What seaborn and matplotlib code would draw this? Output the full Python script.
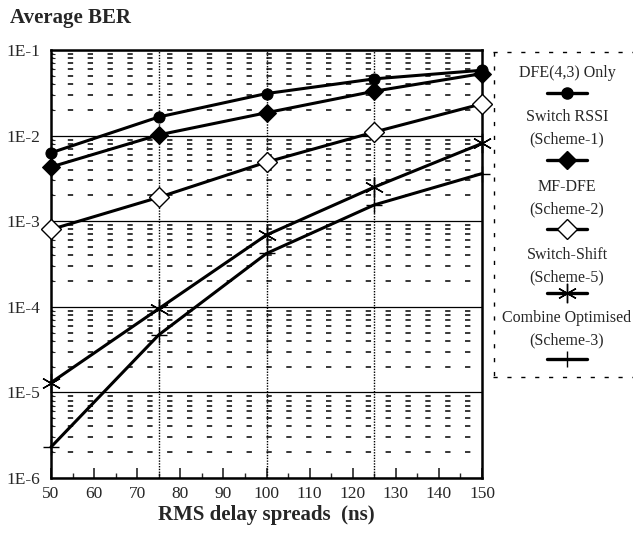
import numpy as np
import pandas as pd
import matplotlib
matplotlib.use("Agg")
import matplotlib.pyplot as plt
import seaborn as sns
from matplotlib.ticker import LogLocator, FixedLocator, NullFormatter, MultipleLocator

# ---- data ----
delay_ns = [50, 75, 100, 125, 150]
ber_dfe = [6.3e-3, 1.65e-2, 3.1e-2, 4.6e-2, 5.8e-2]
ber_rssi = [4.3e-3, 1.02e-2, 1.85e-2, 3.3e-2, 5.3e-2]
ber_mfdfe = [8.0e-4, 1.9e-3, 4.9e-3, 1.1e-2, 2.35e-2]
ber_shift = [1.3e-5, 9.5e-5, 6.9e-4, 2.5e-3, 8.1e-3]
ber_combine = [2.3e-6, 4.7e-5, 4.2e-4, 1.55e-3, 3.6e-3]

series_names = ["DFE(4,3) Only", "Switch RSSI\n(Scheme-1)", "MF-DFE\n(Scheme-2)",
                "Switch-Shift\n(Scheme-5)", "Combine Optimised\n(Scheme-3)"]
series_values = [ber_dfe, ber_rssi, ber_mfdfe, ber_shift, ber_combine]
ytick_vals = [1e-6, 1e-5, 1e-4, 1e-3, 1e-2, 1e-1]
ytick_labels = ["1E-6", "1E-5", "1E-4", "1E-3", "1E-2", "1E-1"]
xtick_vals = [50, 60, 70, 80, 90, 100, 110, 120, 130, 140, 150]
vgrid_x = [75, 100, 125]

# ---- styles ----
marker_styles = [
    dict(marker="o", markersize=8, markerfacecolor="black", markeredgecolor="black"),
    dict(marker="D", markersize=9, markerfacecolor="black", markeredgecolor="black"),
    dict(marker="D", markersize=10, markerfacecolor="white", markeredgecolor="black", markeredgewidth=1.0),
    dict(marker=(6, 2, 0), markersize=14, markeredgecolor="black", markeredgewidth=1.0),
    dict(marker="+", markersize=12, markeredgecolor="black", markeredgewidth=1.0),
]

sns.set_style("white")
plt.rcParams["font.family"] = ["Liberation Serif", "DejaVu Serif"]

fig = plt.figure(figsize=(6.33, 5.36), dpi=100)
ax = fig.add_axes([51 / 633, (536 - 478) / 536, (482 - 51) / 633, (478 - 50) / 536])

rows = []
for name, vals in zip(series_names, series_values):
    for x, v in zip(delay_ns, vals):
        rows.append(dict(series=name, delay=x, ber=v))
df = pd.DataFrame(rows)

for name, st in zip(series_names, marker_styles):
    sub = df[df["series"] == name]
    sns.lineplot(data=sub, x="delay", y="ber", ax=ax, color="black", linewidth=2.2,
                 legend=False, zorder=5, clip_on=False, **st)

ax.set_yscale("log")
ax.set_ylim(1e-6, 1e-1)
ax.set_xlim(50, 150)

# grids
ax.yaxis.set_major_locator(FixedLocator(ytick_vals))
ax.set_yticklabels(ytick_labels)
ax.yaxis.set_minor_locator(LogLocator(base=10, subs=np.arange(2, 10)))
ax.yaxis.set_minor_formatter(NullFormatter())
ax.grid(True, which="major", axis="y", color="black", linewidth=0.9, linestyle="-")
ax.grid(True, which="minor", axis="y", color="black", linewidth=1.1, linestyle=(2, (3.5, 9.5)))
for xv in vgrid_x:
    ax.axvline(xv, color="black", linewidth=1.0, linestyle=(0, (1, 1)), zorder=1)

ax.set_xticks(xtick_vals)
ax.xaxis.set_minor_locator(MultipleLocator(5))
ax.tick_params(axis="x", which="major", direction="in", length=7, width=1.2, bottom=True,
               labelsize=12.5, pad=6)
ax.tick_params(axis="x", which="minor", direction="in", length=3.5, width=1.0, bottom=True)
ax.tick_params(axis="y", which="major", direction="in", length=0, labelsize=12.5, pad=8)
ax.tick_params(axis="y", which="minor", direction="in", length=3, width=0.8, left=True)

for sp in ax.spines.values():
    sp.set_color("black")
    sp.set_linewidth(1.8)

ax.set_xlabel("RMS delay spreads  (ns)", fontsize=15, fontweight="bold", labelpad=2)
ax.set_ylabel("")
fig.text(10 / 633, 1 - 18 / 536, "Average BER", fontsize=15, fontweight="bold",
         ha="left", va="center")

# ---- legend panel ----
lx0, ly_top, ly_bot = 493, 52, 377
lax = fig.add_axes([lx0 / 633, (536 - ly_bot) / 536, (633 - lx0) / 633, (ly_bot - ly_top) / 536])
lax.set_xlim(lx0, 633)
lax.set_ylim(ly_bot, ly_top)
lax.axis("off")
dash = (0, (3, 7))
lax.plot([lx0 + 1, lx0 + 1], [ly_top, ly_bot], color="black", lw=1.0, linestyle=dash, clip_on=False)
lax.plot([lx0, 633], [ly_top, ly_top], color="black", lw=1.0, linestyle=dash, clip_on=False)
lax.plot([lx0, 633], [ly_bot, ly_bot], color="black", lw=1.0, linestyle=dash, clip_on=False)

cx = 567
text_y = [73, 128, 198, 266, 329]
sample_y = [93, 160, 229, 293, 359]
for name, st, ty, sy in zip(series_names, marker_styles, text_y, sample_y):
    lax.text(cx, ty, name, ha="center", va="center", fontsize=11.5, linespacing=1.5)
    lax.plot([cx - 20, cx + 20], [sy, sy], color="black", lw=2.4)
    lax.plot([cx], [sy], linestyle="none", color="black", **st)

fig.savefig("out.png", dpi=100)
